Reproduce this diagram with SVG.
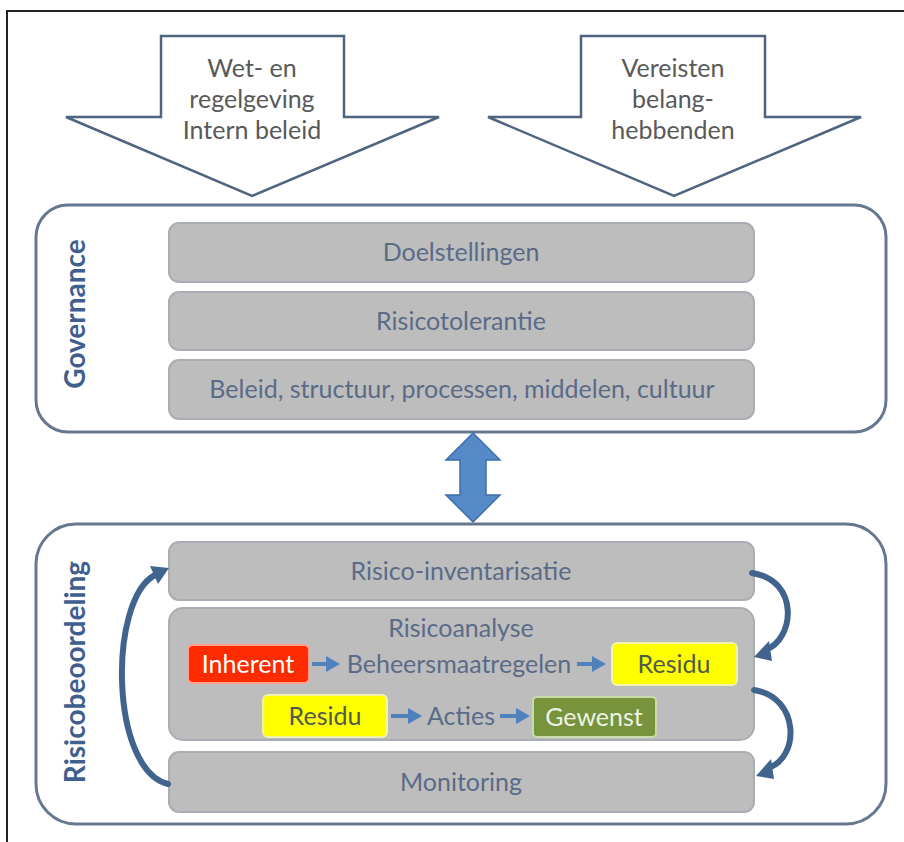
<svg xmlns="http://www.w3.org/2000/svg" width="904" height="842" viewBox="0 0 904 842">
<defs>
<style>
.frame{fill:none;stroke:#222;stroke-width:2}
.bigarrow{fill:#fff;stroke:#4f6480;stroke-width:2.5;stroke-linejoin:miter}
.atext{font-family:Lato,"Liberation Sans",sans-serif;font-size:25px;fill:#595959;text-anchor:middle}
.outer{fill:#fff;stroke:#66788f;stroke-width:3}
.gray{fill:#bdbdbd;stroke:#a9aeb5;stroke-width:2}
.gtext{font-family:Lato,"Liberation Sans",sans-serif;font-size:25px;fill:#5a6b88;text-anchor:middle}
.side{font-family:Lato,"Liberation Sans",sans-serif;font-size:28px;font-weight:bold;fill:#3f5f8e;text-anchor:middle}
.btext{font-family:Lato,"Liberation Sans",sans-serif;font-size:25px;text-anchor:middle}
.small{stroke:#4f81bd;stroke-width:4;fill:none}
.smallhead{fill:#4f81bd}
.curve{fill:none;stroke:#41648f;stroke-width:6;stroke-linecap:round}
.curvehead{fill:#41648f}
</style>
</defs>
<rect width="904" height="842" fill="#fff"/>
<path class="frame" d="M7,842 V11 H904"/>

<g id="arrow-wet">
<polygon class="bigarrow" points="161,36 344,36 344,117 439,117 252,196 66,117 161,117"/>
<text class="atext" x="252" y="77">Wet- en</text>
<text class="atext" x="252" y="108">regelgeving</text>
<text class="atext" x="252" y="139">Intern beleid</text>
</g>

<g id="arrow-vereisten">
<polygon class="bigarrow" points="581,36 765,36 765,117 861,117 674,196 488,117 581,117"/>
<text class="atext" x="673" y="77">Vereisten</text>
<text class="atext" x="673" y="108">belang-</text>
<text class="atext" x="673" y="139">hebbenden</text>
</g>

<g id="governance">
<rect class="outer" x="36" y="205" width="850" height="227" rx="32"/>
<text class="side" transform="translate(85,314) rotate(-90)">Governance</text>
</g>
<g id="doelstellingen">
<rect class="gray" x="169" y="223" width="585" height="59" rx="10"/>
<text class="gtext" x="461" y="261">Doelstellingen</text>
</g>
<g id="risicotolerantie">
<rect class="gray" x="169" y="292" width="585" height="58" rx="10"/>
<text class="gtext" x="461" y="330">Risicotolerantie</text>
</g>
<g id="beleid">
<rect class="gray" x="169" y="360" width="585" height="59" rx="10"/>
<text class="gtext" x="462" y="398">Beleid, structuur, processen, middelen, cultuur</text>
</g>

<g id="risicobeoordeling">
<rect class="outer" x="36" y="524" width="850" height="300" rx="40"/>
<text class="side" transform="translate(85,672) rotate(-90)">Risicobeoordeling</text>
</g>
<g id="inventarisatie">
<rect class="gray" x="169" y="542" width="585" height="58" rx="10"/>
<text class="gtext" x="461" y="580">Risico-inventarisatie</text>
</g>
<g id="risicoanalyse">
<rect class="gray" x="169" y="608" width="585" height="132" rx="14"/>
<text class="gtext" x="461" y="637">Risicoanalyse</text>
</g>
<g id="inherent">
<rect x="188" y="645" width="121" height="38" rx="5" fill="#fe2a00" stroke="#ffa08f" stroke-width="2"/>
<text class="btext" x="248" y="673" fill="#fff">Inherent</text>
</g>
<g id="beheersmaatregelen">
<text class="gtext" x="459" y="673">Beheersmaatregelen</text>
</g>
<g id="residu1">
<rect x="612" y="643" width="125" height="42" rx="5" fill="#ffff00" stroke="#f2f2a8" stroke-width="2"/>
<text class="btext" x="674" y="673" fill="#4e5a50">Residu</text>
</g>
<g id="residu2">
<rect x="263" y="695" width="124" height="42" rx="5" fill="#ffff00" stroke="#f2f2a8" stroke-width="2"/>
<text class="btext" x="325" y="725" fill="#4e5a50">Residu</text>
</g>
<g id="acties">
<text class="gtext" x="461" y="725">Acties</text>
</g>
<g id="gewenst">
<rect x="533" y="697" width="123" height="40" rx="4" fill="#77933c" stroke="#c9dba8" stroke-width="2"/>
<text class="btext" x="594" y="726" fill="#eef2e2">Gewenst</text>
</g>
<g id="monitoring">
<rect class="gray" x="169" y="752" width="585" height="60" rx="10"/>
<text class="gtext" x="461" y="791">Monitoring</text>
</g>

<g id="connectors">
<polygon points="473,433 500,460 486,460 486,495 500,495 473,522 446,495 460,495 460,460 446,460" fill="#5589c8" stroke="#3f6ea8" stroke-width="1.5"/>

<line class="small" x1="312" y1="664" x2="328" y2="664"/>
<polygon class="smallhead" points="326,656 340,664 326,672"/>
<line class="small" x1="577" y1="664" x2="594" y2="664"/>
<polygon class="smallhead" points="592,656 606,664 592,672"/>
<line class="small" x1="391" y1="716" x2="410" y2="716"/>
<polygon class="smallhead" points="408,708 422,716 408,724"/>
<line class="small" x1="500" y1="716" x2="518" y2="716"/>
<polygon class="smallhead" points="516,708 530,716 516,724"/>

<path class="curve" d="M168,784 C110,770 108,600 155,575"/>
<polygon class="curvehead" points="150,566 169,568 158,584"/>

<path class="curve" d="M752,573 C800,580 795,640 765,650"/>
<polygon class="curvehead" points="769,641 754,657 772,661"/>

<path class="curve" d="M754,690 C800,697 800,758 768,768"/>
<polygon class="curvehead" points="771,759 756,776 774,779"/>
</g>
</svg>
